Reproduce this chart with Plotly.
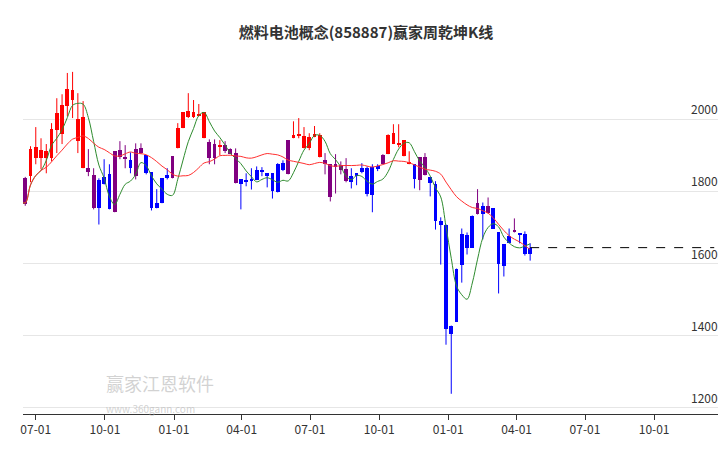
import plotly.graph_objects as go
import pandas as pd

title = "燃料电池概念(858887)赢家周乾坤K线"
start_date = "2022-06-10"
opens = [1778,1836,1842,1892,1892,1892,1892,1969,1958,2036,2053,1939,1864,1864,1844,1831,1839,1847,1911,1914,
         1895,1886,1917,1919,1900,1853,1769,1836,1844,1897,1919,1975,2005,2005,2011,1947,1936,1931,1925,1928,
         1917,1906,1833,1830,1833,1858,1858,1850,1850,1875,1878,1942,1947,1956,1919,1919,1950,1894,1886,1875,
         1875,1872,1861,1842,1850,1864,1864,1867,1869,1900,1903,1931,1931,1897,1875,1875,1894,1894,1839,1819,
         1717,1706,1428,1586,1681,1678,1733,1769,1758,1758,1753,1686,1653,1675,1694,1683,1683,1644]
closes = [1772,1764,1917,1922,1914,1911,1972,2017,2039,2083,2080,2000,2005,1853,1753,1753,1819,1750,1742,1894,
          1892,1864,1842,1906,1850,1753,1753,1767,1836,1836,1975,2019,2022,2019,2014,2019,1892,1892,1928,1911,
          1903,1822,1819,1828,1831,1831,1856,1842,1800,1797,1858,1847,1956,1958,1953,1950,1958,1956,1875,1783,
          1867,1858,1828,1825,1842,1853,1792,1789,1861,1875,1956,1961,1933,1942,1881,1833,1831,1844,1822,1719,
          1706,1419,1406,1439,1597,1644,1644,1736,1736,1739,1697,1600,1594,1656,1686,1681,1625,1625]
highs = [1806,1840,1925,1978,1947,1931,1989,2058,2069,2128,2131,2072,2050,1917,1864,1836,1889,1875,1911,1939,
         1928,1908,1933,1933,1900,1853,1806,1836,1864,1897,1989,2019,2072,2053,2042,2019,1944,1944,1942,1939,
         1919,1919,1833,1850,1864,1869,1867,1850,1850,1878,1886,1942,1994,2003,1978,1961,1981,1961,1906,1875,
         1903,1883,1892,1864,1850,1878,1869,1875,1875,1903,1958,1986,1986,1942,1911,1875,1894,1906,1839,1828,
         1728,1708,1428,1586,1697,1686,1733,1806,1769,1783,1753,1686,1653,1697,1725,1683,1689,1656]
lows = [1717,1760,1825,1875,1861,1850,1883,1906,1931,2008,2003,1906,1864,1842,1750,1708,1819,1750,1742,1889,
        1864,1850,1833,1903,1847,1747,1753,1767,1833,1836,1919,1975,2003,2003,2008,1947,1875,1875,1900,1906,
        1903,1822,1750,1814,1805,1831,1842,1811,1780,1797,1856,1847,1947,1947,1919,1914,1950,1894,1847,1772,
        1794,1847,1825,1808,1817,1850,1786,1742,1856,1875,1903,1931,1922,1897,1875,1808,1803,1844,1786,1694,
        1597,1375,1239,1439,1547,1625,1644,1736,1667,1739,1697,1517,1564,1656,1686,1656,1622,1608]
purple_idx = [1,13,14,18,19,20,22,23,29,36,37,39,40,41,51,58,59,60,61,62,69,76,77,87,89,94]
y_ticks = [1200,1400,1600,1800,2000]
x_tick_dates = ["2022-07-01","2022-10-01","2023-01-01","2023-04-01","2023-07-01","2023-10-01",
                "2024-01-01","2024-04-01","2024-07-01","2024-10-01"]
x_tick_text = ["07-01","10-01","01-01","04-01","07-01","10-01","01-01","04-01","07-01","10-01"]

n = len(closes)
dates = pd.date_range(start_date, periods=n, freq="7D")
colors = []
for i in range(n):
    if i in purple_idx:
        colors.append("#800080")
    elif closes[i] >= opens[i]:
        colors.append("#ff0000")
    else:
        colors.append("#0000ff")

fig = go.Figure()
for col in ["#ff0000", "#0000ff", "#800080"]:
    xs, ys = [], []
    for i in range(n):
        if colors[i] == col:
            xs += [dates[i], dates[i], None]
            ys += [lows[i], highs[i], None]
    fig.add_trace(go.Scatter(x=xs, y=ys, mode="lines", line=dict(color=col, width=1),
                             hoverinfo="skip", showlegend=False))
heights = []
for o, c in zip(opens, closes):
    h = c - o
    if abs(h) < 3:
        h = 3 if h >= 0 else -3
    heights.append(h)
fig.add_trace(go.Bar(x=dates, y=heights, base=opens, marker=dict(color=colors, line=dict(width=0)),
                     width=5*86400000, showlegend=False))
s = pd.Series(closes)
ma_s = s.rolling(5, min_periods=1).mean()
ma_l = s.rolling(20, min_periods=1).mean()
fig.add_trace(go.Scatter(x=dates, y=ma_s, mode="lines", line=dict(color="#2e8b2e", width=1, shape="spline"),
                         showlegend=False))
fig.add_trace(go.Scatter(x=dates, y=ma_l, mode="lines", line=dict(color="#ff3030", width=1, shape="spline"),
                         showlegend=False))
fig.add_trace(go.Scatter(x=[dates[-1], pd.Timestamp("2024-12-20")], y=[closes[-1]+19, closes[-1]+19],
                         mode="lines", line=dict(color="#000000", width=1, dash="dash"), showlegend=False))

annots = [dict(text=str(v), x=0.995, y=v, xref="paper", yref="y", showarrow=False, xanchor="right",
               yanchor="bottom", font=dict(size=12, color="#333333")) for v in y_ticks]
annots += [
    dict(text="赢家江恩软件", x=0.115, y=0.045, xref="paper", yref="paper", showarrow=False,
         xanchor="left", font=dict(size=18, color="rgba(180,180,180,0.6)")),
    dict(text="www.360gann.com", x=0.115, y=-0.01, xref="paper", yref="paper", showarrow=False,
         xanchor="left", font=dict(size=10, color="rgba(180,180,180,0.6)")),
]

fig.update_layout(
    width=716, height=442, margin=dict(l=15, r=0, t=48, b=36),
    paper_bgcolor="white", plot_bgcolor="white", bargap=0,
    title=dict(text="<b>"+title+"</b>", x=0.5, y=0.955, xanchor="center",
               font=dict(size=15, color="#333333", family="Noto Sans CJK SC")),
    font=dict(family="Noto Sans CJK SC", size=12, color="#333333"),
    xaxis=dict(range=["2022-06-14", "2025-01-02"], tickvals=x_tick_dates, ticktext=x_tick_text,
               showgrid=False, showline=True, linecolor="#333333", linewidth=1, ticks="outside",
               ticklen=5, tickcolor="#333333", tickfont=dict(size=12, color="#333333")),
    yaxis=dict(range=[1183, 2175], tickvals=y_ticks, showticklabels=False,
               showgrid=True, gridcolor="#e6e6e6", zeroline=False),
    annotations=annots,
)
fig.write_html("out.html")
